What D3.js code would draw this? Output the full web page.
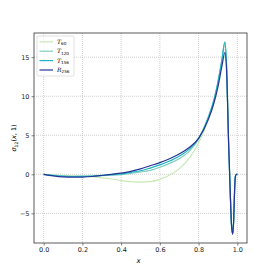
<!DOCTYPE html>
<html>
<head>
<meta charset="utf-8">
<script src="https://cdn.jsdelivr.net/npm/d3@7"></script>
<style>
  body { margin: 0; background: #fff; }
  text { font-family: "DejaVu Sans", sans-serif; }
</style>
</head>
<body>
<svg id="chart" width="274" height="274"></svg>
<script>
var xs   = [0, .05, .1, .15, .2, .25, .3, .35, .4, .45, .5, .55, .6, .65, .7, .75, .8, .85, .88, .9, .92, .936, .945, .955, .963, .97, .976, .981, .986, .99, .995, 1];
var r256 = [0, -.2, -.33, -.37, -.35, -.28, -.15, 0, .15, .38, .7, 1.1, 1.5, 2.0, 2.6, 3.4, 4.6, 7.0, 9.2, 11.2, 13.8, 15.6, 13, 4, -2, -6.5, -7.7, -6, -2, -.3, 0, 0];
var t156 = [0, -.15, -.25, -.28, -.27, -.22, -.15, -.05, .05, .25, .45, .8, 1.2, 1.7, 2.3, 3.2, 4.6, 7.3, 9.6, 11.8, 14.6, 16.9, 13.5, 4, -2, -6.5, -7.6, -6, -2, -.3, 0, 0];
var t120 = [0, -.1, -.2, -.25, -.25, -.22, -.18, -.12, -.05, .1, .3, .5, .9, 1.4, 2.0, 2.9, 4.5, 7.3, 9.6, 11.8, 14.6, 17.0, 13.6, 4, -2, -6.5, -7.6, -6, -2, -.3, 0, 0];
var t60  = [0, -.1, -.15, -.2, -.25, -.3, -.45, -.6, -.8, -.95, -1.0, -.95, -.65, -.1, .7, 2.0, 4.0, 7.0, 9.4, 11.6, 14.4, 16.8, 13.5, 4, -2, -6.5, -7.6, -6, -2, -.3, 0, 0];

var seriesNames  = ["T60", "T120", "T156", "R256"];
var seriesSym    = ["T", "T", "T", "R"];
var seriesSub    = ["60", "120", "156", "256"];
var seriesColors = ["#c7e9b4", "#7fcdbb", "#1fb3c6", "#253494"];
var seriesVals   = [t60, t120, t156, r256];

var xTicks = [0, 0.2, 0.4, 0.6, 0.8, 1.0];
var yTicks = [-5, 0, 5, 10, 15];

var svg = d3.select("#chart"),
    margin = {top: 33, right: 27, bottom: 31, left: 34},
    width = 274 - margin.left - margin.right,
    height = 274 - margin.top - margin.bottom,
    g = svg.append("g").attr("transform", "translate(" + margin.left + "," + margin.top + ")");

var x = d3.scaleLinear().domain([-0.05, 1.05]).range([0, width]),
    y = d3.scaleLinear().domain([-8.8, 18.1]).range([height, 0]);

// grid
g.append("g").selectAll("line").data(xTicks).enter().append("line")
    .attr("x1", function(d) { return x(d); }).attr("x2", function(d) { return x(d); })
    .attr("y1", 0).attr("y2", height)
    .attr("stroke", "#b0b0b0").attr("stroke-width", 0.6).attr("stroke-dasharray", "1,1");
g.append("g").selectAll("line").data(yTicks).enter().append("line")
    .attr("y1", function(d) { return y(d); }).attr("y2", function(d) { return y(d); })
    .attr("x1", 0).attr("x2", width)
    .attr("stroke", "#b0b0b0").attr("stroke-width", 0.6).attr("stroke-dasharray", "1,1");

var line = d3.line()
    .curve(d3.curveMonotoneX)
    .x(function(d) { return x(d[0]); })
    .y(function(d) { return y(d[1]); });

seriesVals.forEach(function(vals, i) {
  g.append("path")
      .datum(xs.map(function(xv, j) { return [xv, vals[j]]; }))
      .attr("fill", "none")
      .attr("stroke", seriesColors[i])
      .attr("stroke-width", 1.2)
      .attr("d", line);
});

// axes
var xAxis = g.append("g")
    .attr("transform", "translate(0," + height + ")")
    .call(d3.axisBottom(x).tickValues(xTicks).tickFormat(d3.format(".1f")).tickSize(2.5).tickPadding(2));
var yAxis = g.append("g")
    .call(d3.axisLeft(y).tickValues(yTicks).tickFormat(function(d) { return d < 0 ? "\u2212" + Math.abs(d) : d; }).tickSize(2.5).tickPadding(2));
[xAxis, yAxis].forEach(function(a) {
  a.select(".domain").remove();
  a.selectAll("text").attr("font-size", 6.5).attr("fill", "#222").attr("font-family", "DejaVu Sans");
  a.selectAll("line").attr("stroke", "#333").attr("stroke-width", 0.6);
});

g.append("rect")
    .attr("width", width).attr("height", height)
    .attr("fill", "none").attr("stroke", "#333").attr("stroke-width", 0.8);

// labels
svg.append("text")
    .attr("x", margin.left + width / 2 - 2).attr("y", 263)
    .attr("text-anchor", "middle").attr("font-size", 7).attr("font-style", "italic")
    .text("x");

var yl = svg.append("text")
    .attr("transform", "translate(16," + (margin.top + height / 2) + ") rotate(-90)")
    .attr("text-anchor", "middle").attr("font-size", 6.5);
yl.append("tspan").attr("font-style", "italic").text("\u03c3");
yl.append("tspan").attr("font-size", 4.6).attr("dy", 1.5).text("12");
yl.append("tspan").attr("dy", -1.5).text("(");
yl.append("tspan").attr("font-style", "italic").text("x");
yl.append("tspan").text(", 1)");

// legend
var leg = g.append("g").attr("transform", "translate(3,3)");
leg.append("rect")
    .attr("width", 37).attr("height", 40).attr("rx", 1.5)
    .attr("fill", "#fff").attr("fill-opacity", 0.8)
    .attr("stroke", "#ccc").attr("stroke-width", 0.6);
seriesNames.forEach(function(name, i) {
  var yy = 5.8 + i * 9.4;
  leg.append("line")
      .attr("x1", 2.5).attr("x2", 16).attr("y1", yy).attr("y2", yy)
      .attr("stroke", seriesColors[i]).attr("stroke-width", 1.2);
  var t = leg.append("text").attr("x", 20).attr("y", yy + 2).attr("font-size", 6);
  t.append("tspan").attr("font-style", "italic").attr("font-family", "DejaVu Serif").text(seriesSym[i]);
  t.append("tspan").attr("font-size", 4.2).attr("dy", 1.3).text(seriesSub[i]);
});
</script>
</body>
</html>
